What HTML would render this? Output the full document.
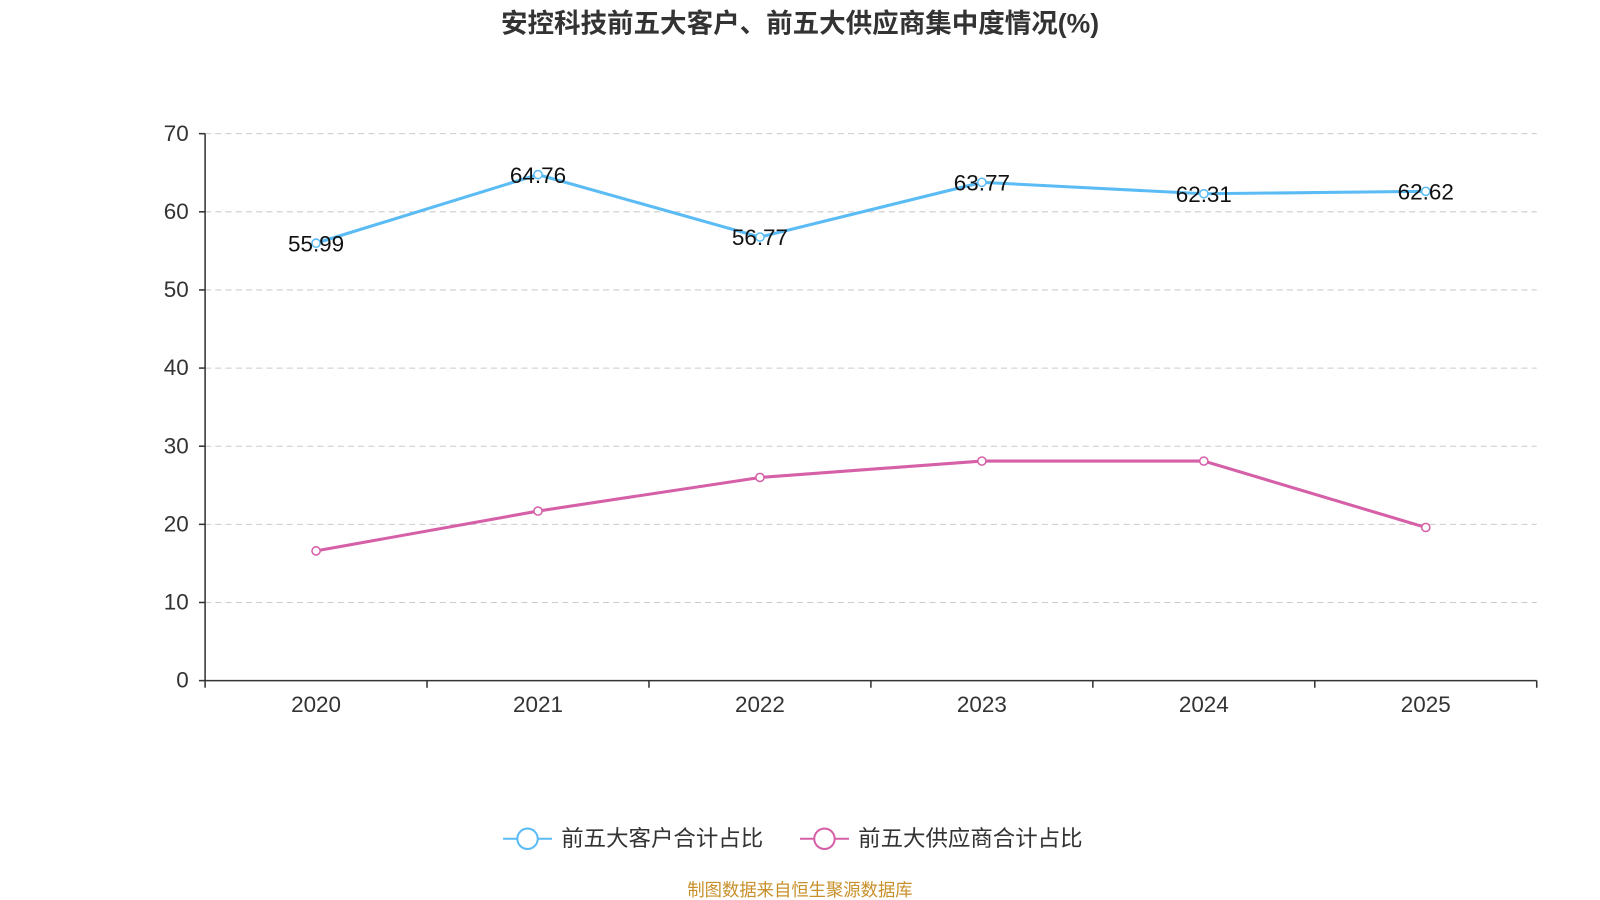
<!DOCTYPE html>
<html><head><meta charset="utf-8">
<style>
body{margin:0;background:#fff;}
svg{display:block;font-family:"Liberation Sans","Noto Sans CJK SC",sans-serif;}
</style></head>
<body>
<svg id="chart" width="1600" height="900">
<g transform="scale(1.0204)">
<text x="784" y="32" text-anchor="middle" font-size="26" font-weight="bold" fill="#333">安控科技前五大客户、前五大供应商集中度情况(%)</text>
<g id="grid"></g><g id="axes"></g><g id="series"></g>
<g>
<line x1="493" y1="822" x2="541" y2="822" stroke="#5bbcf5" stroke-width="2"/>
<circle cx="517" cy="822" r="10" fill="#fff" stroke="#5bbcf5" stroke-width="2"/>
<text x="550" y="829" font-size="22" fill="#333">前五大客户合计占比</text>
<line x1="784" y1="822" x2="832" y2="822" stroke="#d660a8" stroke-width="2"/>
<circle cx="808" cy="822" r="10" fill="#fff" stroke="#d660a8" stroke-width="2"/>
<text x="841" y="829" font-size="22" fill="#333">前五大供应商合计占比</text>
</g>
<text x="784" y="878" text-anchor="middle" font-size="17" fill="#c8902a">制图数据来自恒生聚源数据库</text>
</g>
</svg>
<script>
const categories=['2020','2021','2022','2023','2024','2025'];
const customers=[55.99,64.76,56.77,63.77,62.31,62.62];
const suppliers=[16.6,21.7,26.0,28.1,28.1,19.6];
const yTicks=[0,10,20,30,40,50,60,70];
const NS='http://www.w3.org/2000/svg';
const x0=201,x1=1506,yB=667,yT=131;
const bw=(x1-x0)/categories.length;
const xs=i=>x0+bw*(i+0.5);
const ys=v=>yB-(v/70)*(yB-yT);
function mk(t,a,p){const e=document.createElementNS(NS,t);for(const k in a)e.setAttribute(k,a[k]);p.appendChild(e);return e;}
const grid=document.getElementById('grid'),axes=document.getElementById('axes'),ser=document.getElementById('series');
yTicks.forEach(v=>{
 if(v>0){const g=mk('line',{x1:x0,x2:x1,y1:ys(v),y2:ys(v),stroke:'#ccc','stroke-dasharray':'6,4'},grid);
 
 }
 const t=mk('text',{x:185,y:ys(v)+7,'text-anchor':'end','font-size':22,fill:'#333'},axes);t.textContent=v;
 
 
 mk('line',{x1:195,x2:x0,y1:ys(v),y2:ys(v),stroke:'#333','stroke-width':1.5},axes);
});
mk('line',{x1:x0,x2:x0,y1:yT,y2:yB,stroke:'#333','stroke-width':1.5},axes);
mk('line',{x1:x0,x2:x1,y1:yB,y2:yB,stroke:'#333','stroke-width':1.5},axes);
for(let i=0;i<=categories.length;i++)mk('line',{x1:x0+bw*i,x2:x0+bw*i,y1:yB,y2:yB+7,stroke:'#333','stroke-width':1.5},axes);
categories.forEach((c,i)=>{const t=mk('text',{x:xs(i),y:698,'text-anchor':'middle','font-size':22,fill:'#333'},axes);t.textContent=c;
 
 });
function series(vals,color,name,labels){
 const p=mk('polyline',{points:vals.map((v,i)=>xs(i)+','+ys(v)).join(' '),fill:'none',stroke:color,'stroke-width':3},ser);
 
 
 vals.forEach((v,i)=>{const c=mk('circle',{cx:xs(i),cy:ys(v),r:4,fill:'#fff',stroke:color,'stroke-width':1.5},ser);
  
  
  if(labels){const t=mk('text',{x:xs(i),y:ys(v)+8,'text-anchor':'middle','font-size':22,fill:'#111'},ser);t.textContent=v.toFixed(2);
  
  }});
}
series(customers,'#5bbcf5','customers',true);
series(suppliers,'#d660a8','suppliers',false);
</script>
</body></html>
